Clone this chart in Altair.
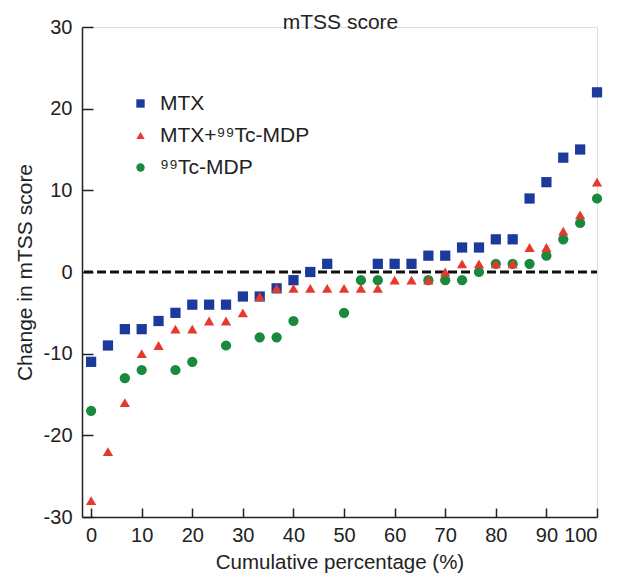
import altair as alt
import pandas as pd

# Cumulative percentage positions (31 ranked patients, 0..100 %)
pct = [round(i * 100 / 30, 2) for i in range(31)]

# Change in mTSS score per group (None = no point visible at that rank)
mtx = [-11, -9, -7, -7, -6, -5, -4, -4, -4, -3, -3, -2, -1, 0, 1, None, None,
       1, 1, 1, 2, 2, 3, 3, 4, 4, 9, 11, 14, 15, 22]
combo = [-28, -22, -16, -10, -9, -7, -7, -6, -6, -5, -3, -2, -2, -2, -2, -2, -2,
         -2, -1, -1, -1, 0, 1, 1, 1, 1, 3, 3, 5, 7, 11]
tc = [-17, None, -13, -12, None, -12, -11, None, -9, None, -8, -8, -6, None, None, -5, -1,
      -1, None, None, -1, -1, -1, 0, 1, 1, 1, 2, 4, 6, 9]

groups = ["MTX", "MTX+⁹⁹Tc-MDP", "⁹⁹Tc-MDP"]
colors = ["#1c3a9b", "#e5392e", "#198a3d"]
shapes = ["square", "triangle-up", "circle"]

y_ticks = [-30, -20, -10, 0, 10, 20, 30]
x_ticks = [0, 10, 20, 30, 40, 50, 60, 70, 80, 90, 100]

title_text = ["mTSS score"]

rows = []
# draw order: MTX bottom, then 99Tc-MDP, then MTX+99Tc-MDP on top
for name, vals in [(groups[0], mtx), (groups[2], tc), (groups[1], combo)]:
    for p, v in zip(pct, vals):
        if v is not None:
            rows.append({"pct": p, "change": v, "group": name})
df = pd.DataFrame(rows)

xscale = alt.Scale(domain=[-1.8, 100], nice=False, zero=False)
yscale = alt.Scale(domain=[-30, 30], nice=False)

points = alt.Chart(df).mark_point(filled=True, opacity=1, size=105).encode(
    x=alt.X("pct:Q", scale=xscale,
            axis=alt.Axis(values=x_ticks, title="Cumulative percentage (%)",
                          grid=False, domainColor="#222", domainWidth=1.5,
                          tickColor="#222", tickWidth=1.5,
                          tickSize=alt.ExprRef("-9"), labelPadding=17,
                          labelExpr="toString(datum.value)",
                          labelFontSize=20, labelColor="#222", labelFont="Liberation Sans",
                          titleFontSize=20.5, titleFontWeight="normal", titleColor="#222",
                          titleFont="Liberation Sans", titlePadding=7)),
    y=alt.Y("change:Q", scale=yscale,
            axis=alt.Axis(values=y_ticks, title="Change in mTSS score",
                          grid=False, domainColor="#222", domainWidth=1.5,
                          tickColor="#222", tickWidth=1.5,
                          tickSize=alt.ExprRef("-11"), labelPadding=21,
                          labelExpr="toString(datum.value)",
                          labelFontSize=20, labelColor="#222", labelFont="Liberation Sans",
                          titleFontSize=21, titleFontWeight="normal", titleColor="#222",
                          titleFont="Liberation Sans", titleX=-57, titleY=245,
                          titleBaseline="middle", titleAngle=-90)),
    color=alt.Color("group:N", scale=alt.Scale(domain=groups, range=colors),
                    legend=alt.Legend(title=None, orient="none", legendX=48, legendY=66,
                                      labelFontSize=21, labelFont="Liberation Sans",
                                      labelColor="#222", symbolSize=70, labelOffset=9,
                                      rowPadding=10, padding=0, symbolStrokeWidth=0)),
    shape=alt.Shape("group:N", scale=alt.Scale(domain=groups, range=shapes)),
)

zero_df = pd.DataFrame({"x0": [-1.4], "x1": [100], "y": [0]})
zero_line = alt.Chart(zero_df).mark_rule(color="#111", strokeWidth=3, strokeDash=[9, 4]).encode(
    x="x0:Q", x2="x1:Q", y="y:Q"
)

title_df = pd.DataFrame({"t": title_text, "x": [49.3], "y": [30]})
title = alt.Chart(title_df).mark_text(
    fontSize=21, font="Liberation Sans", color="#222", baseline="alphabetic",
    align="center", dy=2
).encode(x=alt.X("x:Q", scale=xscale), y=alt.Y("y:Q", scale=yscale), text="t:N")

chart = alt.layer(zero_line, points, title).properties(
    width=515,
    height=490,
    autosize=alt.AutoSizeParams(type="none"),
    padding={"left": 74, "top": 19, "right": 22, "bottom": 56},
).configure_view(stroke=None).configure(background="#ffffff")

chart.save("out.html", embed_options={"renderer": "svg", "actions": False})
